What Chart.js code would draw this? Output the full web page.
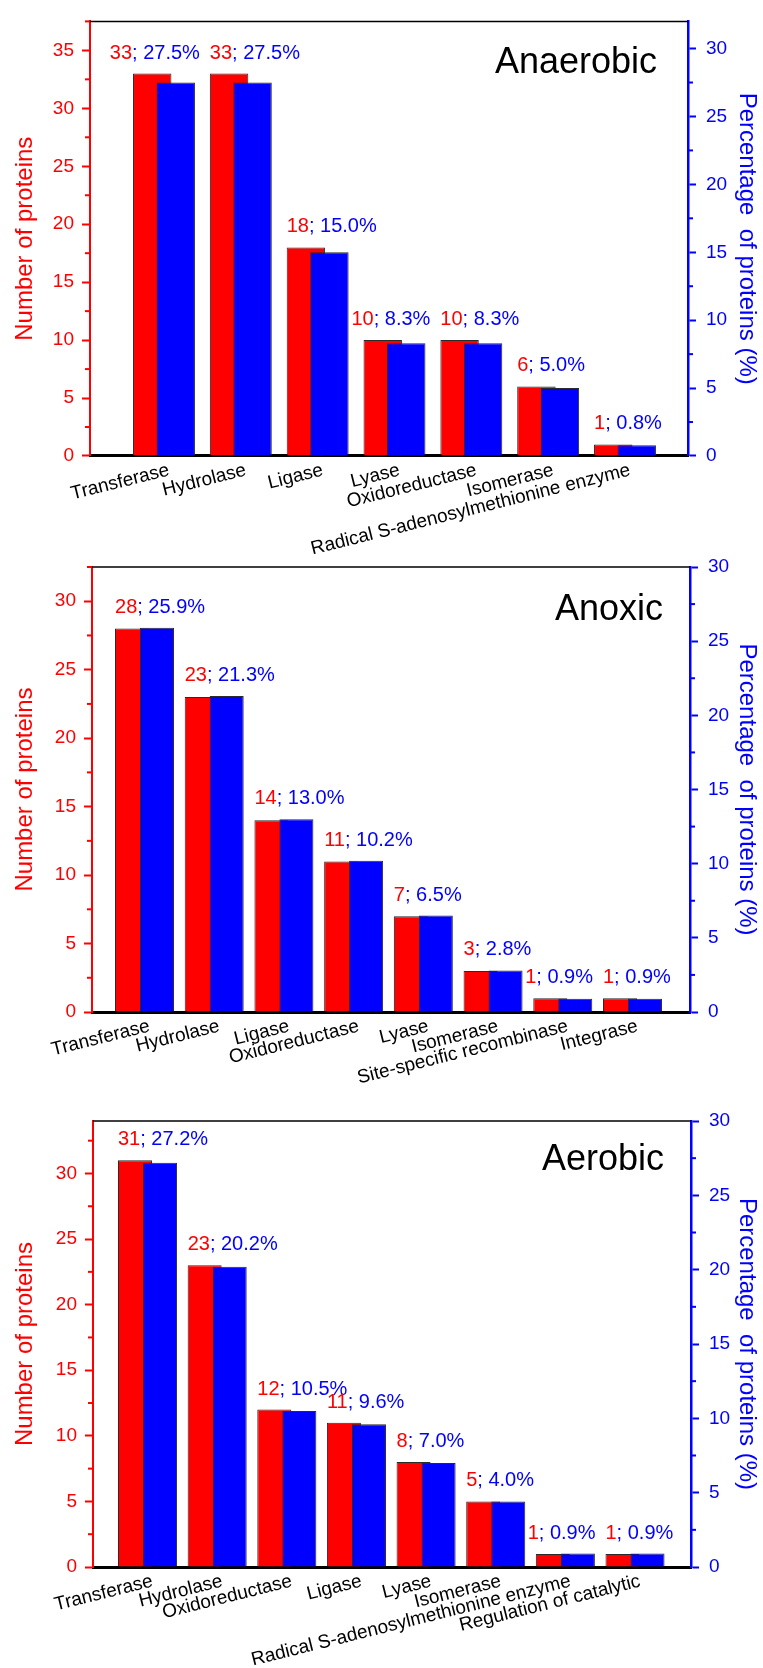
<!DOCTYPE html>
<html><head><meta charset="utf-8">
<script src="https://cdn.jsdelivr.net/npm/chart.js@4.4.1/dist/chart.umd.min.js"></script>
<style>
html,body{margin:0;padding:0;background:#fff;}
#wrap{position:relative;width:763px;height:1668px;overflow:hidden;background:#fff;}
canvas{position:absolute;left:0;top:0;}
</style></head>
<body><div id="wrap">
<canvas id="c1" width="763" height="1668"></canvas>
<canvas id="c2" width="763" height="1668"></canvas>
<canvas id="c3" width="763" height="1668"></canvas>
</div>
<script>
// ---------- DATA ----------
const anaerobicCategories = ['Transferase','Hydrolase','Ligase','Lyase','Oxidoreductase','Isomerase','Radical S-adenosylmethionine enzyme'];
const anaerobicCounts = [33, 33, 18, 10, 10, 6, 1];
const anaerobicPercents = [27.5, 27.5, 15.0, 8.3, 8.3, 5.0, 0.8];
const anaerobicPercentLabels = ['27.5%', '27.5%', '15.0%', '8.3%', '8.3%', '5.0%', '0.8%'];

const anoxicCategories = ['Transferase','Hydrolase','Ligase','Oxidoreductase','Lyase','Isomerase','Site-specific recombinase','Integrase'];
const anoxicCounts = [28, 23, 14, 11, 7, 3, 1, 1];
const anoxicPercents = [25.9, 21.3, 13.0, 10.2, 6.5, 2.8, 0.9, 0.9];
const anoxicPercentLabels = ['25.9%', '21.3%', '13.0%', '10.2%', '6.5%', '2.8%', '0.9%', '0.9%'];

const aerobicCategories = ['Transferase','Hydrolase','Oxidoreductase','Ligase','Lyase','Isomerase','Radical S-adenosylmethionine enzyme','Regulation of catalytic'];
const aerobicCounts = [31, 23, 12, 11, 8, 5, 1, 1];
const aerobicPercents = [27.2, 20.2, 10.5, 9.6, 7.0, 4.4, 0.9, 0.9];
const aerobicPercentLabels = ['27.2%', '20.2%', '10.5%', '9.6%', '7.0%', '4.0%', '0.9%', '0.9%'];

// axis ranges (tick values)
const anaerobicCountMax = 37.5, anaerobicPercentMax = 32;
const anoxicCountMax = 32.5, anoxicPercentMax = 30;
const aerobicCountMax = 34, aerobicPercentMax = 30;
const tickStep = 5;

// ---------- RENDER ----------
const FONT = "'Liberation Sans', Arial, Helvetica, sans-serif";
const RED = '#ff0000', BLUE = '#0000ff', EDGE = '#2a2a2a';
const PAGE_W = 763, PAGE_H = 1668;

function makePanel(id, p) {
  const deco = {
    id: 'deco',
    afterDraw(chart) {
      const ctx = chart.ctx, a = chart.chartArea;
      ctx.save();
      // top frame
      ctx.strokeStyle = '#000'; ctx.lineWidth = 1.5;
      ctx.beginPath(); ctx.moveTo(a.left, a.top); ctx.lineTo(a.right, a.top); ctx.stroke();
      // minor ticks
      function minor(scale, x, len, color) {
        const t = scale.ticks; if (t.length < 2) return;
        const step = t[1].value - t[0].value;
        ctx.strokeStyle = color; ctx.lineWidth = 2;
        t.forEach(tk => {
          const v = tk.value + step / 2;
          if (v <= scale.max + 1e-9) {
            const y = scale.getPixelForValue(v);
            ctx.beginPath(); ctx.moveTo(x, y); ctx.lineTo(x + len, y); ctx.stroke();
          }
        });
      }
      minor(chart.scales.yL, a.left, -5, RED);
      minor(chart.scales.yR, a.right, 5, BLUE);
      // panel title
      ctx.font = '36px ' + FONT; ctx.fillStyle = '#000';
      ctx.textAlign = 'right'; ctx.textBaseline = 'alphabetic';
      ctx.fillText(p.title, a.right - p.titleRight, a.top + p.titleBase);
      // value labels (left aligned on the red bar, nudged left when colliding with the next one)
      const rm = chart.getDatasetMeta(0), bm = chart.getDatasetMeta(1);
      ctx.font = '20px ' + FONT; ctx.textAlign = 'left';
      const items = p.counts.map((c, i) => {
        const rb = rm.data[i], bb = bm.data[i];
        const s1 = String(c), s2 = '; ' + p.percentLabels[i];
        const w1 = ctx.measureText(s1).width, w = w1 + ctx.measureText(s2).width;
        return { s1, s2, w1, w, x: rb.x - rb.width / 2, y: Math.min(rb.y, bb.y) - 15 };
      });
      for (let i = items.length - 2; i >= 0; i--) {
        const cur = items[i], nxt = items[i + 1];
        if (Math.abs(cur.y - nxt.y) < 10 && cur.x + cur.w > nxt.x - 10) cur.x = nxt.x - 10 - cur.w;
      }
      items.forEach(it => {
        ctx.fillStyle = RED; ctx.fillText(it.s1, it.x, it.y);
        ctx.fillStyle = BLUE; ctx.fillText(it.s2, it.x + it.w1, it.y);
      });
      ctx.restore();
    }
  };

  new Chart(document.getElementById(id), {
    type: 'bar',
    data: {
      datasets: [
        { label: 'Number of proteins', data: p.counts.map((v, i) => ({x: i, y: v})),
          xAxisID: 'xr', yAxisID: 'yL', backgroundColor: RED, borderColor: EDGE, borderWidth: 1,
          grouped: false, order: 1, categoryPercentage: 1, barPercentage: p.barRatio },
        { label: 'Percentage of proteins', data: p.percents.map((v, i) => ({x: i, y: v})),
          xAxisID: 'xb', yAxisID: 'yR', backgroundColor: BLUE, borderColor: EDGE, borderWidth: 1,
          grouped: false, order: 0, categoryPercentage: 1, barPercentage: p.barRatio }
      ]
    },
    options: {
      responsive: false, animation: false, devicePixelRatio: 1,
      layout: { padding: { top: p.top, left: 0, right: 0, bottom: 0 } },
      plugins: { legend: { display: false }, tooltip: { enabled: false } },
      scales: {
        xl: { type: 'linear', axis: 'x', position: 'bottom', offset: false, min: p.xMin, max: p.xMax,
          afterFit: s => { s.height = PAGE_H - p.bottom; },
          grid: { display: false, drawTicks: false },
          border: { display: true, color: '#000', width: 3 },
          ticks: { stepSize: 1, includeBounds: false, autoSkip: false, minRotation: 14, maxRotation: 14,
            padding: 3, labelOffset: 5, color: '#000', font: { family: FONT, size: 19 },
            callback: v => (p.categories[v] !== undefined ? p.categories[v] : '') } },
        xr: { type: 'linear', axis: 'x', position: 'bottom', display: false, offset: false,
          min: p.xMin + p.shift, max: p.xMax + p.shift, ticks: { stepSize: 1, includeBounds: false } },
        xb: { type: 'linear', axis: 'x', position: 'bottom', display: false, offset: false,
          min: p.xMin - p.shift, max: p.xMax - p.shift, ticks: { stepSize: 1, includeBounds: false } },
        yL: { type: 'linear', axis: 'y', position: 'left', min: 0, max: p.countMax,
          afterFit: s => { s.width = p.left; },
          grid: { drawOnChartArea: false, tickLength: 8, tickWidth: 2, tickColor: RED },
          border: { color: RED, width: 2 },
          ticks: { stepSize: tickStep, includeBounds: false, padding: 8, color: RED, font: { family: FONT, size: 19 } },
          title: { display: true, text: 'Number of proteins', color: RED, font: { family: FONT, size: 24 }, padding: { top: 11, bottom: 0 } } },
        yR: { type: 'linear', axis: 'y', position: 'right', min: 0, max: p.percentMax,
          afterFit: s => { s.width = PAGE_W - p.right; },
          grid: { drawOnChartArea: false, tickLength: 8, tickWidth: 2, tickColor: BLUE },
          border: { color: BLUE, width: 2.5 },
          ticks: { stepSize: tickStep, includeBounds: false, padding: 10, color: BLUE, font: { family: FONT, size: 19 } },
          title: { display: true, text: 'Percentage  of proteins (%)', color: BLUE, font: { family: FONT, size: 24 }, padding: { top: 2, bottom: 0 } } }
      }
    },
    plugins: [deco]
  });
}

makePanel('c1', { title: 'Anaerobic', categories: anaerobicCategories, counts: anaerobicCounts,
  percents: anaerobicPercents, percentLabels: anaerobicPercentLabels,
  countMax: anaerobicCountMax, percentMax: anaerobicPercentMax,
  top: 13, bottom: 456, left: 90, right: 688, xMin: -0.963, xMax: 6.82, shift: 0.153, barRatio: 0.50,
  titleRight: 31, titleBase: 52 });
makePanel('c2', { title: 'Anoxic', categories: anoxicCategories, counts: anoxicCounts,
  percents: anoxicPercents, percentLabels: anoxicPercentLabels,
  countMax: anoxicCountMax, percentMax: anoxicPercentMax,
  top: 567, bottom: 1012, left: 92, right: 690, xMin: -0.753, xMax: 7.825, shift: 0.179, barRatio: 0.488,
  titleRight: 27, titleBase: 53 });
makePanel('c3', { title: 'Aerobic', categories: aerobicCategories, counts: aerobicCounts,
  percents: aerobicPercents, percentLabels: aerobicPercentLabels,
  countMax: aerobicCountMax, percentMax: aerobicPercentMax,
  top: 1121, bottom: 1567, left: 93, right: 691, xMin: -0.783, xMax: 7.804, shift: 0.18, barRatio: 0.488,
  titleRight: 27, titleBase: 49 });
</script>
</body></html>
